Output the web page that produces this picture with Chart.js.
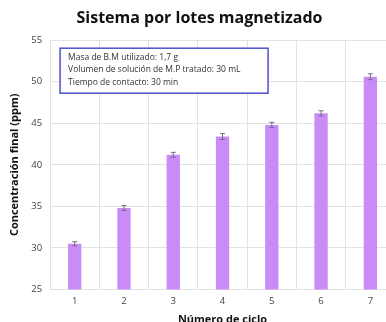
<!DOCTYPE html>
<html>
<head>
<meta charset="utf-8">
<script src="https://cdn.jsdelivr.net/npm/chart.js@4/dist/chart.umd.min.js"></script>
<style>
  html, body { margin: 0; padding: 0; background: #fff; overflow: hidden; }
  #wrap { width: 400px; height: 330px; }
</style>
</head>
<body>
<div id="wrap"><canvas id="chart"></canvas></div>
<script>
// data
const ciclos = ['1', '2', '3', '4', '5', '6', '7'];
const concentracion = [30.5, 34.8, 41.2, 43.4, 44.8, 46.2, 50.6];
const errores = [0.25, 0.3, 0.3, 0.35, 0.3, 0.3, 0.35];
const notas = [
  'Masa de B.M utilizado: 1,7 g',
  'Volumen de solución de M.P tratado: 30 mL',
  'Tiempo de contacto: 30 min'
];

// barras de error
const errorBars = {
  id: 'errorBars',
  afterDatasetsDraw(chart) {
    const ctx = chart.ctx;
    const y = chart.scales.y;
    const meta = chart.getDatasetMeta(0);
    ctx.save();
    ctx.strokeStyle = '#7d6a8c';
    ctx.lineWidth = 1;
    meta.data.forEach(function(bar, i) {
      const v = concentracion[i];
      const top = y.getPixelForValue(v + errores[i]);
      const bot = y.getPixelForValue(v - errores[i]);
      ctx.beginPath();
      ctx.moveTo(bar.x, top); ctx.lineTo(bar.x, bot);
      ctx.moveTo(bar.x - 2.5, top); ctx.lineTo(bar.x + 2.5, top);
      ctx.moveTo(bar.x - 2.5, bot); ctx.lineTo(bar.x + 2.5, bot);
      ctx.stroke();
    });
    ctx.restore();
  }
};

// cuadro de texto
const infoBox = {
  id: 'infoBox',
  afterDraw(chart) {
    const ctx = chart.ctx;
    const a = chart.chartArea;
    const x = a.left + 10, yTop = a.top + 8, w = 208, h = 45;
    ctx.save();
    ctx.fillStyle = '#fff';
    ctx.fillRect(x, yTop, w, h);
    ctx.strokeStyle = '#4f4fd0';
    ctx.lineWidth = 1.5;
    ctx.strokeRect(x, yTop, w, h);
    ctx.fillStyle = '#333';
    ctx.font = '8.5px "Open Sans"';
    ctx.textBaseline = 'middle';
    notas.forEach(function(t, i) {
      ctx.fillText(t, x + 8, yTop + 9 + i * 12.5);
    });
    ctx.restore();
  }
};

new Chart(document.getElementById('chart'), {
  type: 'bar',
  data: {
    labels: ciclos,
    datasets: [{
      data: concentracion,
      backgroundColor: '#c98cf7',
      barPercentage: 0.27,
      categoryPercentage: 1
    }]
  },
  options: {
    responsive: true,
    maintainAspectRatio: false,
    animation: false,
    layout: { padding: { left: 4, right: 5, top: 4, bottom: 0 } },
    plugins: {
      legend: { display: false },
      tooltip: { enabled: false },
      title: {
        display: true,
        text: 'Sistema por lotes magnetizado',
        color: '#111',
        font: { family: 'Open Sans', size: 16, weight: 'bold' },
        padding: { top: 5, bottom: 12 }
      }
    },
    scales: {
      x: {
        grid: { color: '#e2e2e2', offset: true, drawTicks: false },
        border: { display: false },
        ticks: { color: '#444', font: { family: 'Open Sans', size: 9.5 }, padding: 6 },
        title: {
          display: true,
          text: 'Número de ciclo',
          color: '#111',
          font: { family: 'Open Sans', size: 11, weight: 'bold' },
          padding: { top: 0 }
        }
      },
      y: {
        min: 25,
        max: 55,
        grid: { color: '#e2e2e2', drawTicks: false },
        border: { display: false },
        ticks: { stepSize: 5, color: '#444', font: { family: 'Open Sans', size: 9.5 }, padding: 8 },
        title: {
          display: true,
          text: 'Concentración final (ppm)',
          color: '#111',
          font: { family: 'Open Sans', size: 11, weight: 'bold' },
          padding: { top: 4, bottom: 2 }
        }
      }
    }
  },
  plugins: [errorBars, infoBox]
});
</script>
</body>
</html>
